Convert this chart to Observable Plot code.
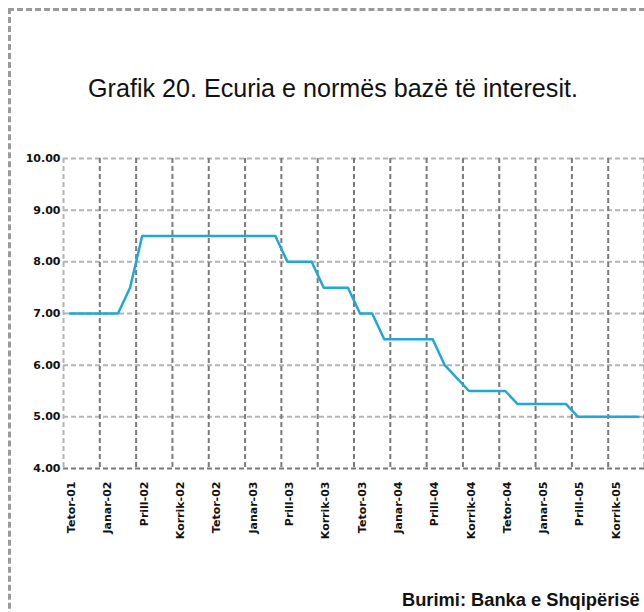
<!DOCTYPE html>
<html>
<head>
<meta charset="utf-8">
<script src="https://cdn.jsdelivr.net/npm/d3@7"></script>
<script src="https://cdn.jsdelivr.net/npm/@observablehq/plot@0.6"></script>
<style>
  html, body { margin: 0; padding: 0; background: #fff; }
  #wrap { position: relative; width: 644px; height: 612px; overflow: hidden; background: #fff; }
  #frame { position: absolute; left: 8px; top: 8px; width: 700px; height: 700px;
           border-top: 3px dashed #9a9a9a; border-left: 3px dashed #9a9a9a; box-sizing: border-box; }
  #title { position: absolute; top: 74px; left: 0; width: 666px; text-align: center;
           font-family: "Liberation Sans", Arial, sans-serif; color: #111; white-space: nowrap; }
  #title span, #source span { display: inline-block; }
  #chart { position: absolute; left: 0; top: 0; }
  #source { position: absolute; left: 402px; top: 589px; white-space: nowrap;
            font-family: "Liberation Sans", Arial, sans-serif; font-weight: bold; color: #111; }
</style>
</head>
<body>
<div id="wrap">
  <div id="frame"></div>
  <div id="title"><span>Grafik 20. Ecuria e normës bazë të interesit.</span></div>
  <div id="chart"></div>
  <div id="source"><span>Burimi: Banka e Shqipërisë</span></div>
</div>
<script>
// Monthly observations, October 2001 – September 2005 (percent)
const baseRate = [
  7.0, 7.0, 7.0, 7.0, 7.0,            // Oct-01 .. Feb-02
  7.5,                                // Mar-02
  8.5, 8.5, 8.5, 8.5, 8.5, 8.5,       // Apr-02 .. Sep-02
  8.5, 8.5, 8.5, 8.5, 8.5, 8.5,       // Oct-02 .. Mar-03
  8.0, 8.0, 8.0,                      // Apr-03 .. Jun-03
  7.5, 7.5, 7.5,                      // Jul-03 .. Sep-03
  7.0, 7.0,                           // Oct-03 .. Nov-03
  6.5, 6.5, 6.5, 6.5, 6.5,            // Dec-03 .. Apr-04
  6.0,                                // May-04
  5.75,                               // Jun-04
  5.5, 5.5, 5.5, 5.5,                 // Jul-04 .. Oct-04
  5.25, 5.25, 5.25, 5.25, 5.25,       // Nov-04 .. Mar-05
  5.0, 5.0, 5.0, 5.0, 5.0, 5.0        // Apr-05 .. Sep-05
];
// Category-axis labels (one every three months)
const tickLabels = [
  "Tetor-01", "Janar-02", "Prill-02", "Korrik-02",
  "Tetor-02", "Janar-03", "Prill-03", "Korrik-03",
  "Tetor-03", "Janar-04", "Prill-04", "Korrik-04",
  "Tetor-04", "Janar-05", "Prill-05", "Korrik-05"
];
const yTicks = [4, 5, 6, 7, 8, 9, 10];
const labelStep = 3;

const data = baseRate.map((v, i) => ({i, v}));
const tickIdx = tickLabels.map((_, k) => k * labelStep);
const gridX = d3.range(0, tickLabels.length + 1).map(k => k * labelStep - 0.5);

const chart = Plot.plot({
  width: 644,
  height: 575,
  marginLeft: 63,
  marginRight: 0,
  marginTop: 158,
  marginBottom: 107,
  style: {fontFamily: "'DejaVu Sans', sans-serif", background: "transparent"},
  x: {domain: [-0.5, baseRate.length - 0.5], axis: null},
  y: {domain: [4, 10], axis: null},
  marks: [
    Plot.ruleY(yTicks.filter(d => d !== 4), {stroke: "#b4b4b4", strokeWidth: 2, strokeDasharray: "5,3"}),
    Plot.ruleX(gridX.slice(1), {stroke: "#7a7a7a", strokeWidth: 2, strokeDasharray: "5,3"}),
    Plot.ruleX(gridX.slice(0, 1), {stroke: "#b4b4b4", strokeWidth: 2, strokeDasharray: "5,3"}),
    Plot.ruleY([4], {stroke: "#777", strokeWidth: 2, strokeDasharray: "5,3"}),
    Plot.line(data, {x: "i", y: "v", stroke: "#22a6d5", strokeWidth: 2.5}),
    Plot.axisY(yTicks, {
      label: null, tickSize: 0, tickPadding: 3, fontSize: 11, fontWeight: "bold", fill: "#111",
      tickFormat: d => d.toFixed(2)
    }),
    Plot.axisX(tickIdx, {
      label: null, tickSize: 0, tickPadding: 13, tickRotate: -90, fontSize: 11, fontWeight: "bold", fill: "#111",
      tickFormat: (d) => tickLabels[d / labelStep], dx: 2
    })
  ]
});
document.getElementById("chart").appendChild(chart);

// Fit the title and the source note to the widths seen in the reference
function fit(sel, targetWidth, start) {
  const s = document.querySelector(sel);
  s.style.fontSize = start + "px";
  const w = s.getBoundingClientRect().width;
  s.style.fontSize = (start * targetWidth / w).toFixed(2) + "px";
}
fit("#title span", 490, 20);
fit("#source span", 238, 15);
</script>
</body>
</html>
